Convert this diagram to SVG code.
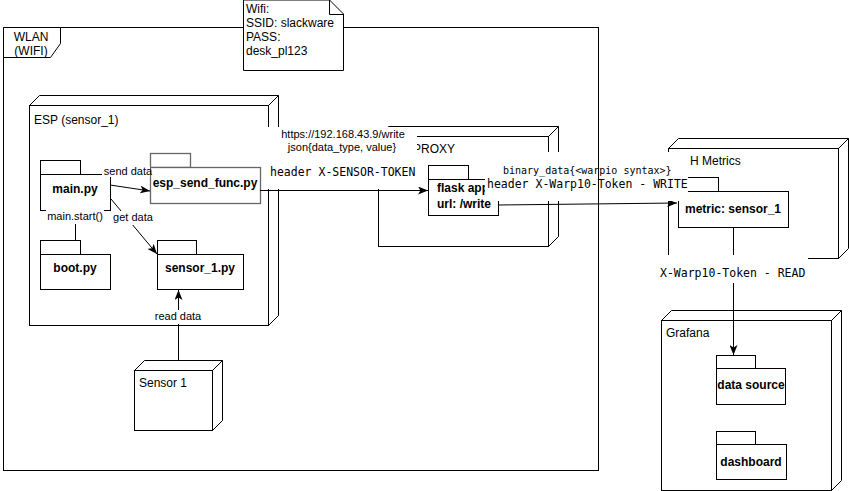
<svg xmlns="http://www.w3.org/2000/svg" width="849" height="491" viewBox="0 0 849 491">
<defs>
<style>
.ln{fill:none;stroke:#000;stroke-width:1}
.nd{fill:#fff;stroke:#000;stroke-width:1}
.t{font-family:"Liberation Sans",Arial,sans-serif;font-size:12px;fill:#000}
.b{font-family:"Liberation Sans",Arial,sans-serif;font-size:12px;font-weight:bold;fill:#000}
.s{font-family:"Liberation Sans",Arial,sans-serif;font-size:11px;fill:#000}
.m{font-family:"DejaVu Sans Mono",monospace;font-size:11.5px;fill:#000}
.m2{font-family:"DejaVu Sans Mono",monospace;font-size:10px;fill:#000}
.bg{fill:#fff;stroke:none}
.gp{fill:#fff;stroke:#666;stroke-width:1.3}
</style>
<marker id="arr" markerUnits="userSpaceOnUse" markerWidth="10" markerHeight="8" refX="10" refY="4" orient="auto">
<path d="M0,0 L10,4 L0,8 L2.5,4 Z" fill="#000"/>
</marker>
</defs>
<rect x="0" y="0" width="849" height="491" fill="#fff"/>

<g id="esp">
<path class="nd" d="M29.5,105.5 L39.5,95.5 L278.5,95.5 L278.5,315.5 L268.5,325.5 Z"/>
<rect class="nd" x="29.5" y="105.5" width="239" height="220"/>
<line class="ln" x1="268.5" y1="105.5" x2="278.5" y2="95.5"/>
<text class="t" x="34" y="124">ESP (sensor_1)</text>
</g>

<g id="main_py">
<rect class="nd" x="40.5" y="160.5" width="40" height="14"/>
<rect class="nd" x="40.5" y="174.5" width="70" height="36"/>
<text class="b" x="75" y="193" text-anchor="middle">main.py</text>
</g>
<g id="esp_send_func">
<rect class="gp" x="150.5" y="153.5" width="40" height="14"/>
<rect class="gp" x="150.5" y="167.5" width="110" height="36"/>
<text class="b" x="205" y="187" text-anchor="middle">esp_send_func.py</text>
</g>
<g id="boot_py">
<rect class="nd" x="40.5" y="240.5" width="40" height="14"/>
<rect class="nd" x="40.5" y="254.5" width="70" height="35"/>
<text class="b" x="75" y="272" text-anchor="middle">boot.py</text>
</g>
<g id="sensor_1_py">
<rect class="nd" x="157.5" y="240.5" width="39" height="14"/>
<rect class="nd" x="157.5" y="254.5" width="86" height="35"/>
<text class="b" x="200" y="272" text-anchor="middle">sensor_1.py</text>
</g>

<g id="sensor1">
<path class="nd" d="M134.5,370.5 L144.5,360.5 L222.5,360.5 L222.5,420.5 L212.5,430.5 Z"/>
<rect class="nd" x="134.5" y="370.5" width="78" height="60"/>
<line class="ln" x1="212.5" y1="370.5" x2="222.5" y2="360.5"/>
<text class="t" x="139" y="387">Sensor 1</text>
</g>

<g id="proxy">
<path class="nd" d="M378.5,136.5 L388.5,126.5 L558.5,126.5 L558.5,236.5 L548.5,246.5 Z"/>
<rect class="nd" x="378.5" y="136.5" width="170" height="110"/>
<line class="ln" x1="548.5" y1="136.5" x2="558.5" y2="126.5"/>
<text class="t" x="413" y="153">PROXY</text>
</g>
<g id="flask">
<rect class="nd" x="428.5" y="165.5" width="40" height="14"/>
<rect class="nd" x="428.5" y="179.5" width="70" height="36"/>
<text class="b" x="437" y="192">flask app</text>
<text class="b" x="437" y="208">url: /write</text>
</g>

<g id="metrics">
<path class="nd" d="M668.5,148.5 L678.5,138.5 L848.5,138.5 L848.5,248.5 L838.5,258.5 Z"/>
<rect class="nd" x="668.5" y="148.5" width="170" height="110"/>
<line class="ln" x1="838.5" y1="148.5" x2="848.5" y2="138.5"/>
<text class="t" x="690" y="165">H Metrics</text>
</g>
<g id="metric_sensor">
<rect class="nd" x="678.5" y="177.5" width="40" height="14"/>
<rect class="nd" x="678.5" y="191.5" width="110" height="36"/>
<text class="b" x="733" y="213" text-anchor="middle">metric: sensor_1</text>
</g>

<g id="grafana">
<path class="nd" d="M661.5,320.5 L671.5,310.5 L841.5,310.5 L841.5,480.5 L831.5,490.5 Z"/>
<rect class="nd" x="661.5" y="320.5" width="170" height="170"/>
<line class="ln" x1="831.5" y1="320.5" x2="841.5" y2="310.5"/>
<text class="t" x="666" y="337">Grafana</text>
</g>
<g id="data_source">
<rect class="nd" x="716.5" y="355.5" width="39" height="13"/>
<rect class="nd" x="716.5" y="368.5" width="69" height="36"/>
<text class="b" x="751" y="389" text-anchor="middle">data source</text>
</g>
<g id="dashboard">
<rect class="nd" x="716.5" y="431.5" width="39" height="13"/>
<rect class="nd" x="716.5" y="444.5" width="70" height="35"/>
<text class="b" x="751" y="466" text-anchor="middle">dashboard</text>
</g>

<g id="connectors">
<line class="ln" x1="110" y1="185" x2="150" y2="191" marker-end="url(#arr)"/>
<rect class="bg" x="102" y="166" width="48" height="11"/>
<text class="s" x="128" y="175" text-anchor="middle">send data</text>

<line class="ln" x1="111" y1="199" x2="157" y2="254" marker-end="url(#arr)"/>
<rect class="bg" x="112" y="211" width="41" height="14"/>
<text class="s" x="133" y="221" text-anchor="middle">get data</text>

<line class="ln" x1="75.5" y1="210" x2="75.5" y2="240"/>
<rect class="bg" x="46" y="209" width="58" height="15"/>
<text class="s" x="75" y="220" text-anchor="middle">main.start()</text>

<line class="ln" x1="178.5" y1="360" x2="178.5" y2="290" marker-end="url(#arr)"/>
<rect class="bg" x="153" y="310" width="50" height="14"/>
<text class="s" x="178" y="320" text-anchor="middle">read data</text>

<rect class="bg" x="265" y="127" width="152" height="62"/>
<line class="ln" x1="260" y1="190.5" x2="428" y2="190.5" marker-end="url(#arr)"/>
<text class="s" x="343" y="138" text-anchor="middle">https://192.168.43.9/write</text>
<text class="s" x="342" y="151" text-anchor="middle">json{data_type, value}</text>
<text class="m" x="270" y="176">header X-SENSOR-TOKEN</text>

<line class="ln" x1="498" y1="205" x2="677" y2="203" marker-end="url(#arr)"/>
<rect class="bg" x="485" y="152" width="203" height="49"/>
<text class="m2" x="503" y="174">binary_data{&lt;warpio syntax&gt;}</text>
<text class="m" x="487" y="188">header X-Warp10-Token - WRITE</text>

<line class="ln" x1="733.5" y1="228" x2="733.5" y2="355" marker-end="url(#arr)"/>
<rect class="bg" x="655" y="255" width="153" height="28"/>
<text class="m" x="660" y="277">X-Warp10-Token - READ</text>
</g>

<g id="wlan">
<rect class="ln" x="3.5" y="27.5" width="595" height="443"/>
<path d="M3.5,27.5 L60.5,27.5 L60.5,43.5 L50.5,57.5 L3.5,57.5 Z" fill="#fff" stroke="#000"/>
<text class="t" x="31" y="41" text-anchor="middle">WLAN</text>
<text class="t" x="31" y="55" text-anchor="middle">(WIFI)</text>
</g>

<g id="wifi_note">
<path class="nd" d="M243.5,0 L329.5,0 L343.5,14 L343.5,70.5 L243.5,70.5 Z"/>
<path class="ln" d="M329.5,0 L329.5,14.5 L343.5,14.5"/>
<text class="t" x="246" y="13">Wifi:</text>
<text class="t" x="246" y="27">SSID: slackware</text>
<text class="t" x="246" y="41">PASS:</text>
<text class="t" x="246" y="55">desk_pl123</text>
</g>
</svg>
